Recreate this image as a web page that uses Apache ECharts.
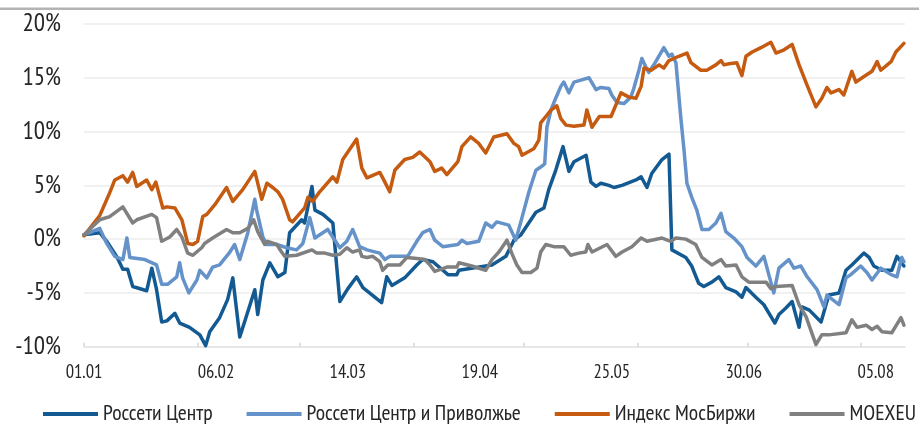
<!DOCTYPE html>
<html>
<head>
<meta charset="utf-8">
<script src="https://cdn.jsdelivr.net/npm/echarts@6/dist/echarts.min.js"></script>
<style>
html,body{margin:0;padding:0;background:#fff;}
#chart{width:919px;height:424px;}
</style>
</head>
<body>
<div id="chart"></div>
<script>
// x values = days since 01.01
const xLabels = ['01.01','06.02','14.03','19.04','25.05','30.06','05.08'];
const monthStarts = [0,31,59,90,120,151,181,212];
const seriesNames = ['Россети Центр','Россети Центр и Приволжье','Индекс МосБиржи','MOEXEU'];

const rossetiCenter = [[0,0.4],[4.3,0.6],[6.2,-0.2],[8.9,-1.6],[10.6,-2.8],[11.9,-2.8],[13.3,-4.4],[17.1,-4.8],[18.5,-2.7],[19.8,-4.7],[21.2,-7.7],[22.6,-7.6],[24.8,-6.9],[26.1,-7.8],[28.8,-8.2],[31.6,-8.9],[33.2,-9.9],[34.3,-8.6],[37.0,-7.3],[39.2,-5.6],[40.6,-3.6],[42.5,-9.1],[46.6,-4.7],[47.4,-7.0],[48.8,-3.8],[50.7,-2.2],[52.9,-3.5],[54.8,-3.1],[56.1,0.6],[59.4,1.8],[60.2,1.5],[62.2,4.9],[63.0,2.7],[65.2,2.3],[67.9,1.5],[69.8,-5.8],[72.0,-4.6],[74.4,-3.5],[76.1,-4.5],[81.2,-5.9],[82.6,-3.5],[84.0,-4.3],[87.5,-3.6],[90.8,-2.4],[92.4,-1.9],[95.2,-2.1],[99.3,-3.3],[101.7,-3.3],[102.3,-2.9],[111.3,-2.4],[115.1,-1.6],[117.3,-0.1],[119.2,0.4],[123.3,2.5],[125.5,2.9],[126.8,4.6],[128.7,6.4],[130.7,8.6],[132.3,6.3],[133.7,7.2],[137.0,7.8],[138.3,5.3],[139.7,4.9],[141.0,5.2],[143.2,5.0],[144.6,4.8],[146.8,5.0],[150.6,5.5],[152.0,5.8],[153.6,4.8],[154.9,6.1],[157.7,7.4],[159.6,7.9],[160.4,-1.0],[164.2,-1.7],[165.8,-2.5],[167.7,-4.1],[169.1,-4.4],[171.3,-4.0],[173.2,-3.5],[175.1,-4.5],[177.9,-4.9],[179.5,-5.4],[180.6,-4.5],[183.3,-5.4],[185.5,-6.1],[188.5,-7.8],[189.6,-7.0],[191.5,-6.4],[193.2,-5.8],[195.1,-8.2],[195.9,-6.3],[197.9,-6.6],[201.1,-7.7],[203.2,-5.2],[206.0,-5.0],[207.9,-2.9],[209.5,-2.4],[212.8,-1.3],[214.2,-1.7],[215.5,-2.5],[217.7,-2.9],[220.4,-2.9],[221.8,-1.6],[223.7,-2.5]];

const rossetiVolga = [[0,0.4],[4.3,1.0],[6.2,-0.4],[8.4,-1.6],[10.6,-1.9],[11.7,0.1],[12.5,-1.7],[16.6,-1.9],[19.8,-2.4],[21.2,-4.2],[22.8,-4.2],[25.3,-3.5],[26.1,-2.2],[26.9,-3.6],[28.6,-5.0],[30.8,-3.8],[31.6,-2.9],[33.5,-3.6],[35.1,-2.6],[37.0,-2.4],[39.8,-1.2],[41.1,-0.5],[42.5,-1.9],[44.7,0.6],[46.6,3.7],[47.1,2.7],[48.8,0.2],[49.9,-0.5],[52.6,-0.5],[55.3,-0.8],[58.0,-1.0],[59.7,-0.4],[61.6,2.0],[63.0,0.1],[66.5,0.9],[69.8,-0.8],[71.7,-0.2],[73.3,0.9],[75.2,-0.7],[77.2,-1.0],[80.7,-1.3],[82.1,-1.9],[83.4,-1.6],[88.3,-1.6],[90.8,-0.2],[92.4,0.6],[94.4,0.9],[95.7,-0.1],[97.9,-0.7],[102.0,-0.5],[103.1,-0.1],[104.5,-0.4],[107.7,-0.2],[109.6,1.5],[111.3,1.1],[112.6,1.6],[115.9,1.3],[117.8,-0.1],[119.5,2.0],[121.4,4.4],[123.3,6.4],[124.6,6.7],[125.7,7.0],[126.3,10.4],[127.4,12.0],[128.7,13.1],[130.1,14.2],[130.9,14.6],[132.3,13.6],[133.7,14.6],[135.8,14.8],[137.8,15.0],[139.7,13.9],[141.0,14.1],[143.2,14.0],[144.0,13.4],[145.4,12.7],[147.3,12.6],[149.2,13.2],[150.0,14.0],[151.4,15.7],[152.2,16.8],[153.3,16.0],[154.1,15.5],[156.0,16.5],[158.2,17.8],[159.6,17.0],[160.4,17.2],[161.5,16.4],[162.8,11.4],[163.7,8.3],[164.5,5.2],[165.8,3.9],[167.2,2.7],[168.6,0.9],[170.5,0.9],[172.4,1.5],[173.8,2.4],[175.1,0.7],[177.3,0.1],[179.5,-0.7],[180.9,-1.7],[183.3,-2.5],[185.5,-1.6],[187.4,-4.0],[188.2,-5.0],[189.6,-2.7],[192.3,-1.9],[193.7,-2.7],[195.6,-2.5],[197.3,-3.5],[200.0,-4.7],[201.9,-6.3],[202.7,-5.2],[206.0,-6.1],[207.9,-3.6],[209.2,-3.3],[211.9,-2.5],[213.6,-3.1],[215.0,-3.8],[217.4,-2.7],[220.2,-3.3],[221.8,-3.5],[223.1,-1.7],[223.7,-2.1]];

const moexIndex = [[0,0.3],[4.3,2.2],[7.0,4.3],[8.4,5.5],[10.6,5.9],[11.9,5.3],[13.3,6.2],[14.4,4.9],[17.1,5.5],[18.5,4.6],[19.6,5.3],[21.5,2.9],[22.6,3.0],[24.8,2.9],[26.7,1.8],[28.3,-0.4],[29.7,-0.5],[31.0,-0.2],[32.4,2.1],[33.5,2.3],[35.7,3.2],[38.9,4.8],[40.6,3.5],[43.3,4.6],[46.6,6.3],[48.5,3.7],[49.9,5.2],[51.5,4.8],[52.9,4.4],[54.2,3.7],[56.1,1.8],[56.9,1.6],[58.9,2.4],[60.2,2.9],[61.1,3.9],[62.4,3.5],[64.3,4.4],[67.9,5.8],[69.0,5.3],[70.6,7.4],[74.4,9.3],[75.8,6.6],[77.2,5.7],[80.7,6.2],[82.1,5.3],[83.4,4.4],[84.8,6.4],[87.5,7.4],[89.7,7.6],[91.6,8.1],[94.4,7.2],[95.7,6.3],[97.6,6.6],[99.0,6.0],[102.0,7.2],[103.1,8.6],[105.5,9.5],[107.7,8.9],[109.6,8.0],[111.8,9.5],[115.4,9.8],[117.3,8.9],[118.6,8.6],[119.5,7.8],[122.7,8.4],[124.1,9.2],[124.6,10.8],[126.0,11.4],[127.4,12.0],[129.0,12.4],[130.1,11.2],[131.5,10.6],[133.7,10.5],[136.4,10.6],[137.2,12.0],[138.6,10.4],[140.6,11.4],[143.8,11.4],[146.5,13.6],[148.7,13.2],[150.6,13.1],[152.0,14.2],[152.8,15.9],[154.7,15.7],[156.9,16.2],[158.2,15.9],[159.6,16.6],[162.3,17.0],[164.5,17.3],[165.6,16.4],[168.3,15.7],[169.9,15.7],[172.4,16.2],[173.8,16.6],[174.6,16.2],[176.0,16.3],[178.1,16.4],[179.5,15.2],[180.6,17.0],[182.3,17.4],[184.7,17.8],[187.4,18.3],[188.8,17.3],[191.0,17.6],[193.2,18.1],[195.1,16.2],[197.3,14.3],[199.7,12.3],[201.3,13.1],[202.7,14.1],[203.8,13.6],[206.0,13.9],[207.3,13.4],[209.5,15.6],[210.6,14.6],[212.3,15.0],[215.0,15.6],[216.4,16.5],[217.4,15.7],[220.2,16.5],[221.5,17.4],[223.7,18.2]];

const moexeu = [[0,0.4],[4.3,1.8],[7.0,2.1],[10.6,3.0],[13.3,1.5],[14.4,1.8],[18.5,2.3],[19.8,2.0],[21.2,-0.2],[23.4,0.2],[25.3,0.9],[26.7,0.2],[28.3,-1.3],[29.7,-1.5],[32.1,-0.8],[32.9,-0.4],[35.1,0.1],[38.9,0.9],[40.6,0.6],[42.5,0.6],[44.7,1.0],[46.3,1.8],[47.4,0.7],[49.3,-0.5],[50.1,-0.2],[52.6,-0.5],[53.9,-1.2],[54.8,-1.6],[58.0,-1.5],[62.2,-1.0],[63.5,-1.3],[65.7,-1.3],[67.9,-1.5],[69.8,-1.4],[71.7,-0.8],[73.3,-1.2],[75.2,-1.0],[75.8,-1.6],[77.2,-1.7],[78.8,-1.6],[80.7,-2.1],[81.5,-2.9],[82.9,-2.4],[86.2,-2.4],[88.1,-1.7],[90.8,-1.8],[93.0,-1.9],[94.4,-2.4],[95.7,-3.0],[99.0,-2.6],[101.7,-2.6],[102.3,-2.2],[105.8,-2.5],[109.6,-2.9],[111.3,-1.9],[113.2,-1.2],[115.4,-0.1],[116.7,-1.3],[118.1,-2.4],[119.5,-3.1],[121.9,-3.1],[123.6,-2.7],[124.6,-1.2],[126.0,-0.5],[128.2,-0.7],[130.9,-0.7],[132.8,-1.5],[135.0,-1.3],[136.9,-1.2],[137.5,-0.5],[138.6,-1.2],[142.7,-0.5],[145.1,-1.6],[146.8,-1.2],[149.5,-0.7],[152.0,0.1],[153.6,-0.2],[157.7,0.1],[160.1,-0.2],[161.5,0.1],[164.2,0.0],[166.9,-0.5],[168.6,-1.7],[171.3,-2.4],[173.8,-1.9],[175.1,-2.5],[177.9,-2.4],[179.5,-3.5],[181.4,-4.0],[186.1,-4.0],[187.4,-4.6],[188.8,-4.4],[193.2,-4.3],[195.1,-6.1],[197.0,-7.2],[199.7,-9.8],[201.3,-8.9],[203.2,-8.9],[207.9,-8.7],[209.5,-7.5],[210.9,-8.2],[213.4,-8.0],[215.0,-8.4],[216.4,-8.1],[217.7,-8.6],[220.4,-8.7],[222.9,-7.3],[223.7,-8.0]];

const colors = ['#145a92','#6492c9','#c55a11','#808080'];
const FONT = "'PT Sans Narrow','Roboto Condensed','Open Sans Condensed',sans-serif";

const chart = echarts.init(document.getElementById('chart'), null, {renderer:'canvas'});
const allData = [rossetiCenter, rossetiVolga, moexIndex, moexeu];

chart.setOption({
  animation: false,
  backgroundColor: '#ffffff',
  color: colors,
  textStyle: {fontFamily: FONT},
  graphic: [{
    type: 'rect', left: 0, top: 7.5, shape: {width: 919, height: 2.5},
    style: {fill: '#b3b3b3'}, silent: true
  }],
  grid: {left: 84, right: 14, top: 24, bottom: 77.3, containLabel: false},
  legend: {
    left: 43, top: 403, padding: 0, width: 900,
    itemWidth: 55, itemHeight: 4, itemGap: 34,
    icon: 'rect',
    textStyle: {fontSize: 21.7, color: '#262626', fontFamily: FONT, padding: [0,0,0,0]},
    data: seriesNames
  },
  xAxis: [{
    type: 'value', min: 0, max: 224, interval: 36,
    axisLine: {show: false}, axisTick: {show: false}, splitLine: {show: false},
    axisLabel: {
      showMaxLabel: false, margin: 17, fontSize: 18.5, color: '#262626', fontFamily: FONT,
      formatter: function (v) { return (v % 36 === 0 && xLabels[v / 36]) ? xLabels[v / 36] : ''; }
    }
  }, {
    type: 'value', min: 0, max: 224, position: 'bottom',
    axisLine: {show: true, onZero: true, lineStyle: {color: '#e3e3e3', width: 1.5}},
    axisTick: {show: true, inside: true, length: 4, customValues: monthStarts, lineStyle: {color: '#d6d6d6', width: 1.5}},
    axisLabel: {show: false}, splitLine: {show: false}
  }],
  yAxis: {
    type: 'value', min: -10, max: 20, interval: 5,
    axisLine: {show: false}, axisTick: {show: false},
    splitLine: {lineStyle: {color: '#ececec', width: 1.5}},
    axisLabel: {formatter: '{value}%', fontSize: 25, color: '#262626', margin: 23, fontFamily: FONT}
  },
  series: seriesNames.map(function (name, i) {
    return {
      name: name, type: 'line', data: allData[i], xAxisIndex: 0,
      showSymbol: false, symbol: 'none',
      lineStyle: {width: 3.5, color: colors[i], join: 'round', cap: 'round'},
      itemStyle: {color: colors[i]},
      emphasis: {disabled: true}
    };
  })
});
</script>
</body>
</html>
